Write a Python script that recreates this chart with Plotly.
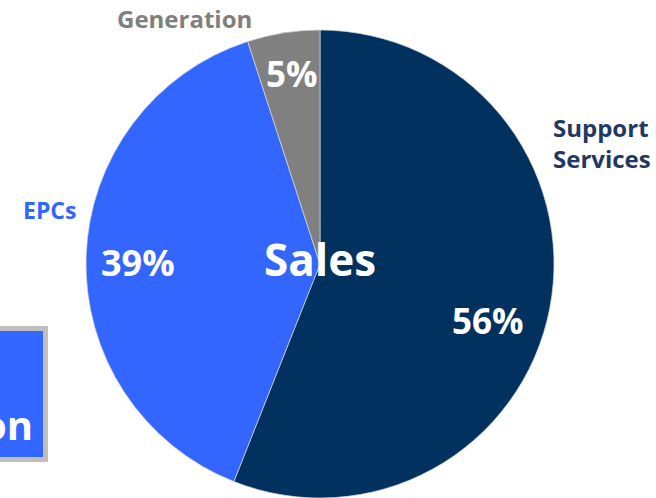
import plotly.graph_objects as go

W, H = 656, 498

# Data
categories = ["Support Services", "EPCs", "Generation"]
values = [56, 39, 5]
pct_labels = ["56%", "39%", "5%"]
slice_colors = ["#00315F", "#3366FF", "#808080"]
label_colors = ["#1F3864", "#3366FF", "#7F7F7F"]
center_text = "Sales"
box_text = "on"

def px(x):
    return x / W

def py(y):
    return 1 - y / H

FONT = "Open Sans"

fig = go.Figure()
fig.add_trace(go.Pie(
    labels=categories,
    values=values,
    sort=False,
    direction="clockwise",
    rotation=0,
    marker=dict(colors=slice_colors, line=dict(color="#D9D9D9", width=0.7)),
    textinfo="none",
    hoverinfo="label+percent",
    showlegend=False,
    domain=dict(x=[px(86), px(554)], y=[0, py(30)]),
))

annotations = []
# category labels
annotations.append(dict(x=px(185), y=py(18), text="<b>Generation</b>",
                        font=dict(family=FONT, size=24, color=label_colors[2])))
annotations.append(dict(x=px(551), y=py(143), text="<b>Support<br>Services</b>", align="left",
                        xanchor="left",
                        font=dict(family=FONT, size=24, color=label_colors[0])))
annotations.append(dict(x=px(49.5), y=py(210), text="<b>EPCs</b>",
                        font=dict(family=FONT, size=23, color=label_colors[1])))
# percent labels
annotations.append(dict(x=px(488), y=py(320), text="<b>" + pct_labels[0] + "</b>",
                        font=dict(family=FONT, size=35, color="white")))
annotations.append(dict(x=px(138), y=py(262), text="<b>" + pct_labels[1] + "</b>",
                        font=dict(family=FONT, size=36, color="white")))
annotations.append(dict(x=px(292), y=py(74), text="<b>" + pct_labels[2] + "</b>",
                        font=dict(family=FONT, size=35, color="white")))
# center text
annotations.append(dict(x=px(320), y=py(259), text="<b>" + center_text + "</b>",
                        font=dict(family=FONT, size=44, color="white")))
# box text
annotations.append(dict(x=px(35), y=py(424), text="<b>" + box_text + "</b>", xanchor="right",
                        font=dict(family=FONT, size=40, color="white")))

for a in annotations:
    a.update(xref="paper", yref="paper", showarrow=False)
    a.setdefault("xanchor", "center")
    a.setdefault("yanchor", "middle")

fig.update_layout(
    width=W, height=H,
    margin=dict(l=0, r=0, t=0, b=0),
    paper_bgcolor="white",
    plot_bgcolor="white",
    annotations=annotations,
    shapes=[dict(type="rect", xref="paper", yref="paper",
                 x0=px(-10), x1=px(45.5), y0=py(459.5), y1=py(328.5),
                 fillcolor="#3366FF", line=dict(color="#BFBFBF", width=5),
                 layer="below")],
)

fig.write_html("out.html")
